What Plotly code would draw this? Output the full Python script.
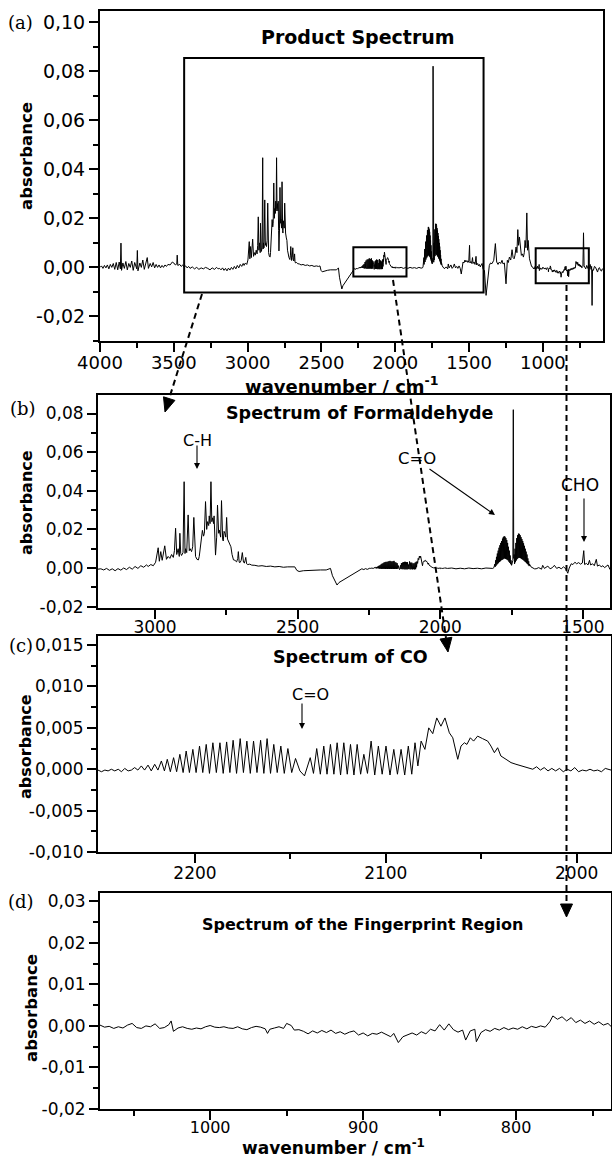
import plotly.graph_objects as go

W, H = 612, 1157

# ---------------- data (wavenumber / cm-1, absorbance) ----------------
# product spectrum, 4000 -> 2252 cm-1
hi_wn = [4000, 3990, 3980, 3970, 3960, 3950, 3940, 3930, 3920, 3910,
         3900, 3890, 3880, 3870, 3862, 3858, 3854, 3845, 3835, 3825,
         3815, 3805, 3795, 3785, 3775, 3765, 3751, 3747, 3743, 3730,
         3720, 3710, 3700, 3690, 3680, 3672, 3660, 3650, 3640, 3630,
         3620, 3610, 3600, 3590, 3580, 3570, 3560, 3550, 3540, 3525,
         3510, 3500, 3490, 3480, 3477, 3473, 3460, 3450, 3440, 3430,
         3420, 3410, 3400, 3390, 3375, 3360, 3345, 3330, 3315, 3300,
         3285, 3270, 3255, 3240, 3225, 3210, 3200, 3190, 3180, 3170,
         3160, 3150, 3140, 3130, 3120, 3110, 3100, 3090, 3080, 3070,
         3060, 3050, 3040, 3030, 3024, 3015, 3006, 2998, 2989, 2985,
         2980, 2975, 2966, 2960, 2954, 2948, 2942, 2936, 2932, 2928,
         2924, 2919, 2915, 2913, 2910, 2907, 2902, 2898, 2895, 2893,
         2889, 2884, 2880, 2877, 2872, 2868, 2864, 2860, 2858, 2853,
         2848, 2845, 2843, 2838, 2834, 2830, 2827, 2823, 2819, 2816,
         2812, 2810, 2807, 2804, 2801, 2798, 2795, 2793, 2790, 2788,
         2784, 2781, 2777, 2775, 2770, 2767, 2763, 2761, 2758, 2755,
         2752, 2749, 2746, 2743, 2738, 2734, 2730, 2725, 2720, 2714,
         2710, 2708, 2705, 2702, 2698, 2694, 2690, 2687, 2684, 2682,
         2679, 2675, 2668, 2661, 2650, 2638, 2625, 2610, 2595, 2580,
         2565, 2550, 2535, 2520, 2510, 2503, 2495, 2480, 2460, 2440,
         2420, 2400, 2390, 2385, 2378, 2370, 2362, 2355, 2345, 2330,
         2315, 2300, 2290, 2280, 2275, 2268, 2262, 2256, 2252]
hi_abs = [0.0000, 0.0006, -0.0004, 0.0008, -0.0002, 0.0010, -0.0006, 0.0012, 0.0000, 0.0016,
          -0.0008, 0.0020, -0.0010, 0.0022, -0.0006, 0.0099, -0.0012, 0.0018, -0.0004, 0.0024,
          -0.0010, 0.0016, 0.0000, 0.0026, -0.0012, 0.0020, -0.0006, 0.0069, -0.0014, 0.0018,
          0.0000, 0.0030, -0.0008, 0.0022, 0.0040, -0.0004, 0.0016, 0.0002, 0.0020, -0.0002,
          0.0012, 0.0000, 0.0010, -0.0002, 0.0008, 0.0000, 0.0010, 0.0004, 0.0012, 0.0010,
          0.0022, 0.0018, 0.0010, 0.0014, 0.0050, 0.0008, 0.0012, 0.0004, 0.0010, 0.0000,
          0.0006, -0.0002, 0.0004, -0.0004, 0.0002, -0.0006, 0.0000, -0.0008, -0.0002, -0.0006,
          0.0000, -0.0004, -0.0010, -0.0002, -0.0008, 0.0000, -0.0006, -0.0004, -0.0010, -0.0002,
          -0.0012, -0.0004, -0.0014, -0.0003, -0.0011, 0.0000, -0.0008, 0.0004, -0.0006, 0.0008,
          -0.0002, 0.0012, 0.0004, 0.0016, 0.0008, 0.0018, 0.0012, 0.0030, 0.0105, 0.0035,
          0.0085, 0.0040, 0.0115, 0.0045, 0.0060, 0.0050, 0.0070, 0.0055, 0.0090, 0.0206,
          0.0070, 0.0100, 0.0060, 0.0180, 0.0075, 0.0065, 0.0080, 0.0447, 0.0075, 0.0100,
          0.0080, 0.0275, 0.0090, 0.0100, 0.0085, 0.0110, 0.0262, 0.0080, 0.0060, 0.0045,
          0.0042, 0.0060, 0.0085, 0.0150, 0.0195, 0.0165, 0.0180, 0.0344, 0.0200, 0.0240,
          0.0220, 0.0270, 0.0230, 0.0447, 0.0240, 0.0260, 0.0230, 0.0270, 0.0150, 0.0067,
          0.0160, 0.0326, 0.0180, 0.0197, 0.0160, 0.0349, 0.0150, 0.0140, 0.0190, 0.0180,
          0.0160, 0.0262, 0.0150, 0.0140, 0.0120, 0.0110, 0.0070, 0.0042, 0.0040, 0.0032,
          0.0050, 0.0085, 0.0030, 0.0028, 0.0040, 0.0080, 0.0030, 0.0026, 0.0040, 0.0055,
          0.0022, 0.0018, 0.0020, 0.0015, 0.0014, 0.0010, 0.0012, 0.0008, 0.0010, 0.0006,
          0.0008, 0.0004, 0.0006, 0.0004, 0.0006, -0.0012, -0.0018, -0.0014, -0.0012, -0.0010,
          -0.0010, -0.0010, -0.0006, -0.0002, -0.0040, -0.0065, -0.0088, -0.0075, -0.0066, -0.0052,
          -0.0040, -0.0025, -0.0015, -0.0010, -0.0004, -0.0008, -0.0003, -0.0007, -0.0004]

# CO region, 2251 -> 1982 cm-1
co_wn = [2250.8, 2249.0, 2247.2, 2245.5, 2243.8, 2242.0, 2240.2, 2238.5, 2236.8, 2235.0,
         2233.3, 2231.6, 2229.9, 2228.1, 2226.4, 2224.6, 2222.9, 2221.1, 2219.4, 2217.6,
         2216.0, 2214.5, 2212.9, 2211.2, 2209.6, 2207.9, 2206.2, 2204.6, 2202.9, 2201.1,
         2199.4, 2197.6, 2195.9, 2194.1, 2192.4, 2190.6, 2188.8, 2186.9, 2185.2, 2183.4,
         2181.7, 2180.0, 2178.2, 2176.3, 2174.6, 2172.8, 2171.0, 2169.3, 2167.5, 2165.6,
         2163.9, 2162.2, 2160.4, 2158.7, 2156.9, 2155.0, 2153.2, 2151.3, 2149.3, 2147.3,
         2145.0, 2142.6, 2139.6, 2137.9, 2136.2, 2134.3, 2132.5, 2130.8, 2129.0, 2127.2,
         2125.5, 2123.7, 2122.0, 2120.2, 2118.5, 2116.7, 2115.0, 2113.2, 2111.5, 2109.6,
         2107.7, 2105.8, 2103.9, 2101.9, 2099.9, 2097.8, 2095.8, 2093.9, 2092.0, 2090.1,
         2088.2, 2086.4, 2084.7, 2083.2, 2081.5, 2079.5, 2077.5, 2075.4, 2073.3, 2071.1,
         2069.0, 2066.7, 2064.9, 2062.3, 2060.6, 2058.8, 2057.5, 2055.7, 2054.0, 2051.9,
         2049.3, 2046.6, 2044.9, 2043.1, 2041.4, 2039.7, 2037.0, 2034.4, 2031.8, 2029.2,
         2025.7, 2023.0, 2021.0, 2019.0, 2017.0, 2015.0, 2013.0, 2011.0, 2009.0, 2007.0,
         2005.0, 2003.0, 2001.0, 1999.0, 1997.0, 1995.0, 1993.0, 1991.0, 1989.0, 1987.0,
         1985.0, 1982.0]
co_abs = [-0.0001, -0.0003, -0.0001, -0.0002, 0.0000, -0.0002, 0.0000, -0.0003, 0.0001, -0.0002,
          -0.0001, 0.0002, -0.0001, 0.0004, -0.0001, 0.0005, -0.0002, 0.0006, -0.0001, 0.0010,
          -0.0002, 0.0012, -0.0003, 0.0014, -0.0003, 0.0018, -0.0004, 0.0022, -0.0004, 0.0024,
          -0.0004, 0.0028, -0.0004, 0.0030, -0.0005, 0.0032, -0.0004, 0.0032, -0.0005, 0.0033,
          -0.0004, 0.0035, -0.0005, 0.0037, -0.0004, 0.0034, -0.0005, 0.0034, -0.0004, 0.0035,
          -0.0005, 0.0037, -0.0005, 0.0030, -0.0004, 0.0028, -0.0005, 0.0025, -0.0004, 0.0013,
          -0.0002, -0.0008, 0.0014, -0.0005, 0.0025, -0.0006, 0.0028, -0.0006, 0.0030, -0.0006,
          0.0032, -0.0007, 0.0032, -0.0006, 0.0030, -0.0007, 0.0030, -0.0006, 0.0018, -0.0005,
          0.0034, -0.0007, 0.0028, -0.0006, 0.0028, -0.0007, 0.0024, -0.0006, 0.0024, -0.0007,
          0.0028, -0.0006, 0.0032, 0.0004, 0.0034, 0.0024, 0.0050, 0.0043, 0.0062, 0.0052,
          0.0062, 0.0044, 0.0038, 0.0012, 0.0028, 0.0032, 0.0030, 0.0038, 0.0034, 0.0040,
          0.0037, 0.0034, 0.0028, 0.0020, 0.0026, 0.0016, 0.0012, 0.0008, 0.0006, 0.0004,
          0.0002, 0.0000, 0.0003, -0.0001, 0.0002, -0.0002, 0.0001, -0.0002, 0.0001, -0.0003,
          0.0000, -0.0002, 0.0002, -0.0003, -0.0001, -0.0002, 0.0000, -0.0002, -0.0001, -0.0003,
          0.0001, -0.0001]

# product spectrum, 1975 -> 1073 cm-1 (C=O band of formaldehyde etc.)
mid_wn = [1975, 1960, 1945, 1930, 1915, 1900, 1885, 1870, 1855, 1840,
          1825, 1816, 1812, 1809, 1807.5, 1806, 1804.5, 1803, 1801.5, 1800,
          1798.5, 1797, 1795.5, 1794, 1792.5, 1791, 1789.5, 1788, 1786.5, 1785,
          1783.5, 1782, 1780.5, 1779, 1777.5, 1776, 1774.5, 1773, 1771.5, 1770,
          1768.5, 1767, 1765.5, 1764, 1762.5, 1761, 1759.5, 1758, 1756.5, 1755,
          1753.5, 1752, 1750, 1747, 1745.5, 1744, 1742.5, 1741, 1739.5, 1738,
          1736.5, 1735, 1733.5, 1732, 1730.5, 1729, 1727.5, 1726, 1724.5, 1723,
          1721.5, 1720, 1718.5, 1717, 1715.5, 1714, 1712.5, 1711, 1709.5, 1708,
          1706.5, 1705, 1703.5, 1702, 1700.5, 1699, 1697.5, 1696, 1694.5, 1693,
          1691.5, 1690, 1688.5, 1687, 1682, 1676, 1670, 1664, 1655, 1645,
          1641, 1635, 1628, 1623, 1615, 1607, 1600, 1592, 1584, 1576,
          1568, 1560, 1553, 1548, 1541, 1535, 1528, 1522, 1515, 1508,
          1502, 1497, 1494, 1488, 1482, 1477, 1473, 1466, 1460, 1453,
          1449, 1442, 1436, 1430, 1424, 1418, 1412, 1405, 1396, 1385,
          1374, 1363, 1355, 1345, 1333, 1322, 1313, 1304, 1295, 1286,
          1277, 1270, 1261, 1250, 1241, 1234, 1227, 1218, 1209, 1202,
          1195, 1189, 1182, 1176, 1170, 1165, 1159, 1152, 1146, 1139,
          1132, 1126, 1121, 1115, 1109, 1104, 1100, 1091, 1082, 1077,
          1073]
mid_abs = [-0.0002, 0.0000, -0.0004, -0.0001, -0.0004, 0.0000, -0.0003, -0.0001, -0.0004, 0.0000,
           -0.0003, -0.0002, 0.0002, 0.0020, 0.0006, 0.0040, 0.0012, 0.0058, 0.0018, 0.0075,
           0.0022, 0.0090, 0.0027, 0.0105, 0.0032, 0.0118, 0.0035, 0.0130, 0.0040, 0.0140,
           0.0042, 0.0152, 0.0045, 0.0160, 0.0048, 0.0165, 0.0050, 0.0162, 0.0048, 0.0155,
           0.0046, 0.0145, 0.0043, 0.0130, 0.0040, 0.0110, 0.0033, 0.0090, 0.0027, 0.0065,
           0.0020, 0.0040, 0.0014, 0.0030, 0.0040, 0.0820, 0.0050, 0.0070, 0.0021, 0.0100,
           0.0030, 0.0130, 0.0039, 0.0155, 0.0046, 0.0170, 0.0051, 0.0178, 0.0053, 0.0177,
           0.0053, 0.0170, 0.0051, 0.0160, 0.0048, 0.0150, 0.0045, 0.0140, 0.0042, 0.0128,
           0.0038, 0.0115, 0.0034, 0.0100, 0.0030, 0.0085, 0.0025, 0.0070, 0.0021, 0.0050,
           0.0015, 0.0035, 0.0010, 0.0020, 0.0006, 0.0000, -0.0004, -0.0004, 0.0002, -0.0006,
           0.0014, -0.0002, 0.0004, 0.0010, -0.0004, 0.0002, 0.0014, -0.0002, 0.0004, -0.0004,
           0.0006, -0.0004, -0.0027, 0.0000, 0.0022, 0.0018, 0.0030, 0.0022, 0.0028, 0.0020,
           0.0026, 0.0090, 0.0018, 0.0024, 0.0016, 0.0040, 0.0016, 0.0022, 0.0012, 0.0045,
           0.0010, 0.0016, 0.0006, 0.0012, 0.0002, 0.0010, 0.0016, -0.0008, -0.0012, -0.0114,
           -0.0046, 0.0008, 0.0018, 0.0015, 0.0029, 0.0097, 0.0022, 0.0012, 0.0022, 0.0016,
           0.0029, 0.0014, 0.0018, -0.0067, 0.0029, 0.0020, 0.0042, 0.0030, 0.0072, 0.0040,
           0.0035, 0.0050, 0.0083, 0.0060, 0.0154, 0.0090, 0.0124, 0.0070, 0.0049, 0.0055,
           0.0042, 0.0060, 0.0110, 0.0080, 0.0222, 0.0070, 0.0110, 0.0035, 0.0012, 0.0004,
           0.0004]

# fingerprint region, 1072 -> 738 cm-1
fp_wn = [1072, 1069, 1066, 1063, 1060, 1057, 1054, 1051, 1048, 1045,
         1042, 1039, 1036, 1033, 1030, 1027, 1025.5, 1024, 1021, 1018,
         1015, 1012, 1009, 1006, 1003, 1000, 997, 994, 991, 988,
         985, 982, 979, 976, 973, 970, 967, 964, 962.5, 961,
         958, 955, 952, 950, 947, 945, 942, 939, 936, 933,
         930, 927, 924, 921, 918, 915, 912, 909, 906, 903,
         900, 897, 894, 891, 888, 885, 882, 880, 877, 874,
         871, 868, 865, 862, 859, 856, 853, 850, 847, 844,
         841, 838, 835, 833, 830, 827, 826, 823, 820, 817,
         814, 811, 808, 805, 802, 799, 796, 793, 790, 787,
         784, 781, 778, 776, 773, 770, 767, 764, 761, 758,
         755, 752, 749, 746, 743, 740, 738]
fp_abs = [0.0002, -0.0003, -0.0001, -0.0006, -0.0002, -0.0005, 0.0002, 0.0006, -0.0004, -0.0006,
          0.0000, -0.0002, 0.0005, -0.0006, -0.0004, 0.0003, 0.0012, -0.0013, -0.0005, -0.0002,
          -0.0006, -0.0008, -0.0005, -0.0007, -0.0002, 0.0001, -0.0003, -0.0004, -0.0002, -0.0005,
          -0.0006, -0.0002, -0.0007, -0.0009, -0.0004, -0.0001, -0.0003, -0.0007, -0.0018, -0.0008,
          -0.0005, -0.0002, -0.0006, 0.0006, 0.0001, -0.0010, -0.0009, -0.0013, -0.0019, -0.0012,
          -0.0017, -0.0011, -0.0016, -0.0010, -0.0018, -0.0014, -0.0020, -0.0015, -0.0012, -0.0022,
          -0.0017, -0.0024, -0.0018, -0.0020, -0.0015, -0.0021, -0.0026, -0.0018, -0.0040, -0.0026,
          -0.0021, -0.0017, -0.0022, -0.0014, -0.0019, -0.0008, -0.0012, 0.0003, -0.0010, 0.0005,
          -0.0009, -0.0015, -0.0010, -0.0034, -0.0012, -0.0008, -0.0038, -0.0016, -0.0009, -0.0013,
          -0.0006, -0.0010, -0.0004, -0.0009, -0.0005, -0.0008, -0.0002, -0.0007, -0.0001, -0.0004,
          0.0000, -0.0003, 0.0010, 0.0024, 0.0016, 0.0022, 0.0012, 0.0020, 0.0008, 0.0014,
          0.0006, 0.0012, 0.0004, 0.0010, 0.0002, 0.0006, -0.0001]

# product spectrum, 734 -> 594 cm-1
lo_wn = [734, 729, 725, 721, 716, 710, 703, 696, 689, 684,
         680, 674, 670, 667, 664, 658, 651, 644, 637, 630,
         623, 617, 610, 603, 598, 594]
lo_abs = [-0.0001, 0.0004, 0.0141, 0.0006, 0.0001, -0.0006, 0.0008, -0.0004, -0.0012, 0.0002,
          0.0012, -0.0008, 0.0004, -0.0155, -0.0010, -0.0012, 0.0004, 0.0001, -0.0010, -0.0019,
          -0.0004, -0.0001, -0.0012, -0.0015, -0.0006, -0.0007]

product_wn = hi_wn + co_wn + mid_wn + fp_wn + lo_wn
product_abs = hi_abs + co_abs + mid_abs + fp_abs + lo_abs

# zoom windows marked in panel (a): [wn_left, wn_right, abs_bottom, abs_top]
zoom_big = [3430, 1402, -0.0102, 0.0853]
zoom_co = [2284, 1924, -0.0037, 0.0082]
zoom_fp = [1049, 689, -0.0065, 0.0078]

# ticks
a_xt = [4000, 3500, 3000, 2500, 2000, 1500, 1000]
a_xl = ["4000", "3500", "3000", "2500", "2000", "1500", "1000"]
a_xm = [3750, 3250, 2750, 2250, 1750, 1250, 750]
a_yt = [-0.02, 0.0, 0.02, 0.04, 0.06, 0.08, 0.10]
a_yl = ["-0,02", "0,00", "0,02", "0,04", "0,06", "0,08", "0,10"]
a_ym = [-0.03, -0.01, 0.01, 0.03, 0.05, 0.07, 0.09]
b_xt = [3000, 2500, 2000, 1500]
b_xl = ["3000", "2500", "2000", "1500"]
b_xm = [2750, 2250, 1750]
b_yt = [-0.02, 0.0, 0.02, 0.04, 0.06, 0.08]
b_yl = ["-0,02", "0,00", "0,02", "0,04", "0,06", "0,08"]
b_ym = [-0.01, 0.01, 0.03, 0.05, 0.07]
c_xt = [2200, 2100, 2000]
c_xl = ["2200", "2100", "2000"]
c_xm = [2150, 2050]
c_yt = [-0.010, -0.005, 0.0, 0.005, 0.010, 0.015]
c_yl = ["-0,010", "-0,005", "0,000", "0,005", "0,010", "0,015"]
c_ym = [-0.0075, -0.0025, 0.0025, 0.0075, 0.0125]
d_xt = [1000, 900, 800]
d_xl = ["1000", "900", "800"]
d_xm = [1050, 950, 850, 750]
d_yt = [-0.02, -0.01, 0.0, 0.01, 0.02, 0.03]
d_yl = ["-0,02", "-0,01", "0,00", "0,01", "0,02", "0,03"]
d_ym = [-0.015, -0.005, 0.005, 0.015, 0.025]

# ---------------- figure ----------------
def px(x):
    return x / W


def py(y):
    return 1 - y / H


SANS = "DejaVu Sans"
fig = go.Figure()
line = dict(color="black", width=1)
fig.add_trace(go.Scatter(x=product_wn, y=product_abs, mode="lines", line=line, xaxis="x", yaxis="y", hoverinfo="skip"))
fig.add_trace(go.Scatter(x=product_wn, y=product_abs, mode="lines", line=line, xaxis="x2", yaxis="y2", hoverinfo="skip"))
fig.add_trace(go.Scatter(x=co_wn, y=co_abs, mode="lines", line=line, xaxis="x3", yaxis="y3", hoverinfo="skip"))
fig.add_trace(go.Scatter(x=fp_wn, y=fp_abs, mode="lines", line=line, xaxis="x4", yaxis="y4", hoverinfo="skip"))


def axis(dom, rng, tv, tt, mv, size, anchor, standoff=0):
    return dict(domain=dom, range=rng, anchor=anchor, automargin=False,
                tickmode="array", tickvals=tv, ticktext=tt,
                showline=True, linecolor="black", linewidth=2, mirror=True,
                ticks="outside", ticklen=9, tickwidth=2, tickcolor="black",
                minor=dict(tickvals=mv, ticks="outside", ticklen=5, tickwidth=2, tickcolor="black"),
                showgrid=False, zeroline=False, ticklabelstandoff=standoff,
                tickfont=dict(family=SANS, size=size, color="black"))


fig.update_layout(
    template="none",
    width=W, height=H, margin=dict(l=0, r=0, t=0, b=0, pad=0, autoexpand=False),
    paper_bgcolor="white", plot_bgcolor="white", showlegend=False,
    xaxis=axis([px(100), px(603)], [4000, 593], a_xt, a_xl, a_xm, 18, "y", -5),
    yaxis=axis([py(341), py(11)], [-0.03, 0.1045], a_yt, a_yl, a_ym, 19, "x"),
    xaxis2=axis([px(98), px(610)], [3200, 1405], b_xt, b_xl, b_xm, 17, "y2", -6),
    yaxis2=axis([py(608), py(395)], [-0.0207, 0.0896], b_yt, b_yl, b_ym, 17, "x2"),
    xaxis3=axis([px(98), px(611)], [2250.8, 1982], c_xt, c_xl, c_xm, 17, "y3", -4),
    yaxis3=axis([py(852), py(636)], [-0.010, 0.0161], c_yt, c_yl, c_ym, 17, "x3"),
    xaxis4=axis([px(100), px(611)], [1072, 738], d_xt, d_xl, d_xm, 16, "y4", -6),
    yaxis4=axis([py(1109), py(893)], [-0.020, 0.032], d_yt, d_yl, d_ym, 17, "x4"),
)

ann = []


def text(x, y, s, size, bold=False, family=SANS, angle=0):
    ann.append(dict(x=px(x), y=py(y), xref="paper", yref="paper", text=s, showarrow=False,
                    xanchor="center", yanchor="middle", textangle=angle,
                    font=dict(family=family, size=size, color="black", weight="bold" if bold else "normal")))


def arrow(x0, y0, x1, y1):
    ann.append(dict(x=px(x1), y=py(y1), xref="paper", yref="paper", ax=x0 - x1, ay=y0 - y1,
                    text="", showarrow=True, arrowhead=2, arrowsize=1.1, arrowwidth=1.1,
                    arrowcolor="black", standoff=0, startstandoff=0))


SERIF = "DejaVu Serif"
text(20, 22, "(a)", 18, family=SERIF)
text(23, 408, "(b)", 18, family=SERIF)
text(21, 645, "(c)", 18, family=SERIF)
text(21, 902, "(d)", 18, family=SERIF)

text(358, 37, "Product Spectrum", 19, bold=True)
text(360, 413, "Spectrum of Formaldehyde", 17.5, bold=True)
text(350, 657, "Spectrum of CO", 17.5, bold=True)
text(362, 924, "Spectrum of the Fingerprint Region", 16, bold=True)

text(26, 156, "absorbance", 16.5, bold=True, angle=-90)
text(27, 503, "absorbance", 16, bold=True, angle=-90)
text(25, 747, "absorbance", 16, bold=True, angle=-90)
text(31, 1008, "absorbance", 16.5, bold=True, angle=-90)

text(342, 385, "wavenumber / cm<sup>-1</sup>", 18, bold=True)
text(334, 1147, "wavenumber / cm<sup>-1</sup>", 17, bold=True)

text(197, 441, "C-H", 16)
arrow(197, 444, 197, 469)
text(417, 458, "C=O", 16.5)
arrow(428, 468, 495, 515)
text(580, 485, "CHO", 17)
arrow(584, 497, 584, 542)
text(310, 694, "C=O", 16)
arrow(302, 702, 302, 729)

fig.update_layout(annotations=ann)

shapes = []
for r in (zoom_big, zoom_co, zoom_fp):
    shapes.append(dict(type="rect", xref="x", yref="y", x0=r[0], x1=r[1], y0=r[2], y1=r[3],
                       line=dict(color="black", width=2)))


def dline(x0, y0, x1, y1):
    shapes.append(dict(type="line", xref="paper", yref="paper", x0=px(x0), y0=py(y0), x1=px(x1), y1=py(y1),
                       line=dict(color="black", width=2, dash="6px,4px")))


def tri(p1, p2, p3):
    path = "M {} {} L {} {} L {} {} Z".format(px(p1[0]), py(p1[1]), px(p2[0]), py(p2[1]), px(p3[0]), py(p3[1]))
    shapes.append(dict(type="path", xref="paper", yref="paper", path=path,
                       fillcolor="black", line=dict(color="black", width=1)))


dline(202, 294, 169, 399)
tri((165, 412), (174.9, 400.4), (163.5, 396.8))
dline(393, 280, 446, 638)
tri((448, 652), (451.9, 637.3), (440, 639.1))
dline(566.5, 285, 566.5, 905)
tri((566.5, 917), (560.5, 904), (572.5, 904))

fig.update_layout(shapes=shapes)

fig.write_html("out.html")
